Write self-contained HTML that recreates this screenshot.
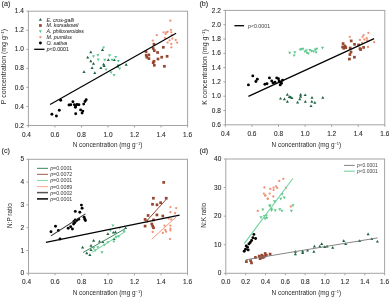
<!DOCTYPE html>
<html><head><meta charset="utf-8"><style>
html,body{margin:0;padding:0;background:#fff;width:389px;height:297px;overflow:hidden}
svg{display:block;will-change:transform;filter:blur(0.35px)}
text{font-family:"Liberation Sans", sans-serif}
</style></head><body>
<svg width="389" height="297" viewBox="0 0 389 297">
<rect x="28.40" y="11.20" width="159.20" height="114.30" fill="none" stroke="#a4a4a4" stroke-width="1"/>
<line x1="26.40" y1="125.50" x2="28.40" y2="125.50" stroke="#a4a4a4" stroke-width="1"/>
<text x="23.90" y="127.60" font-size="6.5" text-anchor="end" fill="#2a2a2a" stroke="#2a2a2a" stroke-width="0.1">0.2</text>
<line x1="26.40" y1="106.45" x2="28.40" y2="106.45" stroke="#a4a4a4" stroke-width="1"/>
<text x="23.90" y="108.55" font-size="6.5" text-anchor="end" fill="#2a2a2a" stroke="#2a2a2a" stroke-width="0.1">0.4</text>
<line x1="26.40" y1="87.40" x2="28.40" y2="87.40" stroke="#a4a4a4" stroke-width="1"/>
<text x="23.90" y="89.50" font-size="6.5" text-anchor="end" fill="#2a2a2a" stroke="#2a2a2a" stroke-width="0.1">0.6</text>
<line x1="26.40" y1="68.35" x2="28.40" y2="68.35" stroke="#a4a4a4" stroke-width="1"/>
<text x="23.90" y="70.45" font-size="6.5" text-anchor="end" fill="#2a2a2a" stroke="#2a2a2a" stroke-width="0.1">0.8</text>
<line x1="26.40" y1="49.30" x2="28.40" y2="49.30" stroke="#a4a4a4" stroke-width="1"/>
<text x="23.90" y="51.40" font-size="6.5" text-anchor="end" fill="#2a2a2a" stroke="#2a2a2a" stroke-width="0.1">1.0</text>
<line x1="26.40" y1="30.25" x2="28.40" y2="30.25" stroke="#a4a4a4" stroke-width="1"/>
<text x="23.90" y="32.35" font-size="6.5" text-anchor="end" fill="#2a2a2a" stroke="#2a2a2a" stroke-width="0.1">1.2</text>
<line x1="26.40" y1="11.20" x2="28.40" y2="11.20" stroke="#a4a4a4" stroke-width="1"/>
<text x="23.90" y="13.30" font-size="6.5" text-anchor="end" fill="#2a2a2a" stroke="#2a2a2a" stroke-width="0.1">1.4</text>
<line x1="28.40" y1="125.50" x2="28.40" y2="127.50" stroke="#a4a4a4" stroke-width="1"/>
<text x="26.40" y="136.60" font-size="6.5" text-anchor="middle" fill="#2a2a2a" stroke="#2a2a2a" stroke-width="0.1">0.4</text>
<line x1="54.93" y1="125.50" x2="54.93" y2="127.50" stroke="#a4a4a4" stroke-width="1"/>
<text x="54.93" y="136.60" font-size="6.5" text-anchor="middle" fill="#2a2a2a" stroke="#2a2a2a" stroke-width="0.1">0.6</text>
<line x1="81.47" y1="125.50" x2="81.47" y2="127.50" stroke="#a4a4a4" stroke-width="1"/>
<text x="81.47" y="136.60" font-size="6.5" text-anchor="middle" fill="#2a2a2a" stroke="#2a2a2a" stroke-width="0.1">0.8</text>
<line x1="108.00" y1="125.50" x2="108.00" y2="127.50" stroke="#a4a4a4" stroke-width="1"/>
<text x="108.00" y="136.60" font-size="6.5" text-anchor="middle" fill="#2a2a2a" stroke="#2a2a2a" stroke-width="0.1">1.0</text>
<line x1="134.53" y1="125.50" x2="134.53" y2="127.50" stroke="#a4a4a4" stroke-width="1"/>
<text x="134.53" y="136.60" font-size="6.5" text-anchor="middle" fill="#2a2a2a" stroke="#2a2a2a" stroke-width="0.1">1.2</text>
<line x1="161.07" y1="125.50" x2="161.07" y2="127.50" stroke="#a4a4a4" stroke-width="1"/>
<text x="161.07" y="136.60" font-size="6.5" text-anchor="middle" fill="#2a2a2a" stroke="#2a2a2a" stroke-width="0.1">1.4</text>
<line x1="187.60" y1="125.50" x2="187.60" y2="127.50" stroke="#a4a4a4" stroke-width="1"/>
<text x="187.60" y="136.60" font-size="6.5" text-anchor="middle" fill="#2a2a2a" stroke="#2a2a2a" stroke-width="0.1">1.6</text>
<text x="1.60" y="5.50" font-size="7.2" text-anchor="start" fill="#2a2a2a" stroke="#2a2a2a" stroke-width="0.1">(a)</text>
<text x="107.50" y="147.00" font-size="6.4" text-anchor="middle" fill="#2a2a2a">N concentration (mg g<tspan dy="-2" font-size="4">−1</tspan><tspan dy="2">)</tspan></text>
<text transform="translate(6.40 66.60) rotate(-90) scale(1.09 1)" x="0" y="0" font-size="6.4" text-anchor="middle" fill="#2a2a2a">P concentration (mg g<tspan dy="-2" font-size="4">−1</tspan><tspan dy="2">)</tspan></text>
<circle cx="170.30" cy="20.70" r="1.15" fill="#f39074"/>
<circle cx="163.60" cy="32.30" r="1.15" fill="#f39074"/>
<circle cx="166.30" cy="32.50" r="1.15" fill="#f39074"/>
<circle cx="167.60" cy="31.80" r="1.15" fill="#f39074"/>
<circle cx="165.60" cy="34.10" r="1.15" fill="#f39074"/>
<circle cx="171.00" cy="29.80" r="1.15" fill="#f39074"/>
<circle cx="171.30" cy="32.30" r="1.15" fill="#f39074"/>
<circle cx="171.70" cy="35.20" r="1.15" fill="#f39074"/>
<circle cx="156.80" cy="35.20" r="1.15" fill="#f39074"/>
<circle cx="164.90" cy="37.90" r="1.15" fill="#f39074"/>
<circle cx="172.30" cy="38.60" r="1.15" fill="#f39074"/>
<circle cx="169.60" cy="40.30" r="1.15" fill="#f39074"/>
<circle cx="175.70" cy="39.90" r="1.15" fill="#f39074"/>
<circle cx="152.80" cy="40.60" r="1.15" fill="#f39074"/>
<circle cx="167.60" cy="42.60" r="1.15" fill="#f39074"/>
<circle cx="177.10" cy="42.60" r="1.15" fill="#f39074"/>
<circle cx="171.30" cy="44.00" r="1.15" fill="#f39074"/>
<circle cx="171.30" cy="47.30" r="1.15" fill="#f39074"/>
<rect x="152.65" y="42.85" width="2.7" height="2.7" fill="#96462f"/>
<rect x="151.85" y="47.15" width="2.7" height="2.7" fill="#96462f"/>
<rect x="152.95" y="49.25" width="2.7" height="2.7" fill="#96462f"/>
<rect x="161.95" y="45.95" width="2.7" height="2.7" fill="#96462f"/>
<rect x="144.65" y="50.25" width="2.7" height="2.7" fill="#96462f"/>
<rect x="156.25" y="51.15" width="2.7" height="2.7" fill="#96462f"/>
<rect x="144.85" y="53.85" width="2.7" height="2.7" fill="#96462f"/>
<rect x="147.55" y="53.55" width="2.7" height="2.7" fill="#96462f"/>
<rect x="145.45" y="55.85" width="2.7" height="2.7" fill="#96462f"/>
<rect x="147.55" y="57.25" width="2.7" height="2.7" fill="#96462f"/>
<rect x="165.75" y="54.95" width="2.7" height="2.7" fill="#96462f"/>
<rect x="160.35" y="55.85" width="2.7" height="2.7" fill="#96462f"/>
<rect x="156.65" y="57.65" width="2.7" height="2.7" fill="#96462f"/>
<rect x="152.65" y="59.95" width="2.7" height="2.7" fill="#96462f"/>
<rect x="151.85" y="61.25" width="2.7" height="2.7" fill="#96462f"/>
<rect x="152.95" y="63.95" width="2.7" height="2.7" fill="#96462f"/>
<rect x="163.05" y="64.95" width="2.7" height="2.7" fill="#96462f"/>
<path d="M103.60 49.12L105.15 46.42L102.05 46.42Z" fill="#5cc78c"/>
<path d="M93.50 57.92L95.05 55.22L91.95 55.22Z" fill="#5cc78c"/>
<path d="M97.90 56.82L99.45 54.12L96.35 54.12Z" fill="#5cc78c"/>
<path d="M98.30 61.22L99.85 58.52L96.75 58.52Z" fill="#5cc78c"/>
<path d="M104.80 61.42L106.35 58.72L103.25 58.72Z" fill="#5cc78c"/>
<path d="M109.60 57.02L111.15 54.32L108.05 54.32Z" fill="#5cc78c"/>
<path d="M115.70 58.62L117.25 55.92L114.15 55.92Z" fill="#5cc78c"/>
<path d="M112.10 61.42L113.65 58.72L110.55 58.72Z" fill="#5cc78c"/>
<path d="M118.30 62.62L119.85 59.92L116.75 59.92Z" fill="#5cc78c"/>
<path d="M118.40 66.92L119.95 64.22L116.85 64.22Z" fill="#5cc78c"/>
<path d="M119.70 70.32L121.25 67.62L118.15 67.62Z" fill="#5cc78c"/>
<path d="M106.00 71.12L107.55 68.42L104.45 68.42Z" fill="#5cc78c"/>
<path d="M111.00 74.12L112.55 71.42L109.45 71.42Z" fill="#5cc78c"/>
<path d="M114.10 76.82L115.65 74.12L112.55 74.12Z" fill="#5cc78c"/>
<path d="M90.80 50.58L92.35 53.28L89.25 53.28Z" fill="#1f6342"/>
<path d="M87.70 55.68L89.25 58.38L86.15 58.38Z" fill="#1f6342"/>
<path d="M90.80 59.58L92.35 62.28L89.25 62.28Z" fill="#1f6342"/>
<path d="M93.50 61.98L95.05 64.68L91.95 64.68Z" fill="#1f6342"/>
<path d="M92.10 66.18L93.65 68.88L90.55 68.88Z" fill="#1f6342"/>
<path d="M84.00 70.18L85.55 72.88L82.45 72.88Z" fill="#1f6342"/>
<path d="M94.80 71.18L96.35 73.88L93.25 73.88Z" fill="#1f6342"/>
<path d="M100.90 66.18L102.45 68.88L99.35 68.88Z" fill="#1f6342"/>
<path d="M103.60 62.78L105.15 65.48L102.05 65.48Z" fill="#1f6342"/>
<path d="M104.20 64.18L105.75 66.88L102.65 66.88Z" fill="#1f6342"/>
<path d="M102.50 48.28L104.05 50.98L100.95 50.98Z" fill="#1f6342"/>
<path d="M108.30 58.18L109.85 60.88L106.75 60.88Z" fill="#1f6342"/>
<path d="M114.30 58.38L115.85 61.08L112.75 61.08Z" fill="#1f6342"/>
<path d="M126.20 63.08L127.75 65.78L124.65 65.78Z" fill="#1f6342"/>
<path d="M117.70 64.88L119.25 67.58L116.15 67.58Z" fill="#1f6342"/>
<circle cx="51.90" cy="114.30" r="1.45" fill="#000"/>
<circle cx="56.40" cy="116.00" r="1.45" fill="#000"/>
<circle cx="59.30" cy="110.20" r="1.45" fill="#000"/>
<circle cx="60.70" cy="100.20" r="1.45" fill="#000"/>
<circle cx="69.00" cy="105.00" r="1.45" fill="#000"/>
<circle cx="70.80" cy="104.70" r="1.45" fill="#000"/>
<circle cx="72.90" cy="101.80" r="1.45" fill="#000"/>
<circle cx="74.40" cy="104.70" r="1.45" fill="#000"/>
<circle cx="75.70" cy="106.00" r="1.45" fill="#000"/>
<circle cx="77.00" cy="104.50" r="1.45" fill="#000"/>
<circle cx="78.90" cy="104.70" r="1.45" fill="#000"/>
<circle cx="75.40" cy="107.30" r="1.45" fill="#000"/>
<circle cx="80.60" cy="109.90" r="1.45" fill="#000"/>
<circle cx="82.80" cy="111.10" r="1.45" fill="#000"/>
<circle cx="82.10" cy="113.10" r="1.45" fill="#000"/>
<circle cx="75.70" cy="113.70" r="1.45" fill="#000"/>
<circle cx="83.70" cy="104.10" r="1.45" fill="#000"/>
<circle cx="85.00" cy="101.50" r="1.45" fill="#000"/>
<circle cx="86.20" cy="99.80" r="1.45" fill="#000"/>
<line x1="50.10" y1="104.40" x2="176.10" y2="33.20" stroke="#000" stroke-width="1.2"/>
<path d="M40.40 17.98L41.95 20.68L38.85 20.68Z" fill="#1f6342"/>
<rect x="39.05" y="24.15" width="2.7" height="2.7" fill="#96462f"/>
<path d="M40.40 33.02L41.95 30.32L38.85 30.32Z" fill="#5cc78c"/>
<circle cx="40.40" cy="37.20" r="1.15" fill="#f39074"/>
<circle cx="40.40" cy="43.00" r="1.45" fill="#000"/>
<text x="46.50" y="21.50" font-size="5.25" text-anchor="start" font-style="italic" fill="#3a3a3a" stroke="#3a3a3a" stroke-width="0.08">E. crus-galli</text>
<text x="46.50" y="27.40" font-size="5.25" text-anchor="start" font-style="italic" fill="#3a3a3a" stroke="#3a3a3a" stroke-width="0.08">M. korsakowii</text>
<text x="46.50" y="33.30" font-size="5.25" text-anchor="start" font-style="italic" fill="#3a3a3a" stroke="#3a3a3a" stroke-width="0.08">A. philoxeroides</text>
<text x="46.50" y="39.10" font-size="5.25" text-anchor="start" font-style="italic" fill="#3a3a3a" stroke="#3a3a3a" stroke-width="0.08">M. pumilus</text>
<text x="46.50" y="44.90" font-size="5.25" text-anchor="start" font-style="italic" fill="#3a3a3a" stroke="#3a3a3a" stroke-width="0.08">O. sativa</text>
<line x1="34.20" y1="49.30" x2="44.50" y2="49.30" stroke="#000" stroke-width="1.3"/>
<text x="46.80" y="51.20" font-size="5.25" text-anchor="start" fill="#3a3a3a" stroke="#3a3a3a" stroke-width="0.08"><tspan font-style="italic">p</tspan>&lt;0.0001</text>
<rect x="225.40" y="10.40" width="159.40" height="114.40" fill="none" stroke="#a4a4a4" stroke-width="1"/>
<line x1="223.40" y1="124.80" x2="225.40" y2="124.80" stroke="#a4a4a4" stroke-width="1"/>
<text x="220.90" y="126.90" font-size="6.5" text-anchor="end" fill="#2a2a2a" stroke="#2a2a2a" stroke-width="0.1">0.6</text>
<line x1="223.40" y1="110.50" x2="225.40" y2="110.50" stroke="#a4a4a4" stroke-width="1"/>
<text x="220.90" y="112.60" font-size="6.5" text-anchor="end" fill="#2a2a2a" stroke="#2a2a2a" stroke-width="0.1">0.8</text>
<line x1="223.40" y1="96.20" x2="225.40" y2="96.20" stroke="#a4a4a4" stroke-width="1"/>
<text x="220.90" y="98.30" font-size="6.5" text-anchor="end" fill="#2a2a2a" stroke="#2a2a2a" stroke-width="0.1">1.0</text>
<line x1="223.40" y1="81.90" x2="225.40" y2="81.90" stroke="#a4a4a4" stroke-width="1"/>
<text x="220.90" y="84.00" font-size="6.5" text-anchor="end" fill="#2a2a2a" stroke="#2a2a2a" stroke-width="0.1">1.2</text>
<line x1="223.40" y1="67.60" x2="225.40" y2="67.60" stroke="#a4a4a4" stroke-width="1"/>
<text x="220.90" y="69.70" font-size="6.5" text-anchor="end" fill="#2a2a2a" stroke="#2a2a2a" stroke-width="0.1">1.4</text>
<line x1="223.40" y1="53.30" x2="225.40" y2="53.30" stroke="#a4a4a4" stroke-width="1"/>
<text x="220.90" y="55.40" font-size="6.5" text-anchor="end" fill="#2a2a2a" stroke="#2a2a2a" stroke-width="0.1">1.6</text>
<line x1="223.40" y1="39.00" x2="225.40" y2="39.00" stroke="#a4a4a4" stroke-width="1"/>
<text x="220.90" y="41.10" font-size="6.5" text-anchor="end" fill="#2a2a2a" stroke="#2a2a2a" stroke-width="0.1">1.8</text>
<line x1="223.40" y1="24.70" x2="225.40" y2="24.70" stroke="#a4a4a4" stroke-width="1"/>
<text x="220.90" y="26.80" font-size="6.5" text-anchor="end" fill="#2a2a2a" stroke="#2a2a2a" stroke-width="0.1">2.0</text>
<line x1="223.40" y1="10.40" x2="225.40" y2="10.40" stroke="#a4a4a4" stroke-width="1"/>
<text x="220.90" y="12.50" font-size="6.5" text-anchor="end" fill="#2a2a2a" stroke="#2a2a2a" stroke-width="0.1">2.2</text>
<line x1="225.40" y1="124.80" x2="225.40" y2="126.80" stroke="#a4a4a4" stroke-width="1"/>
<text x="225.40" y="135.90" font-size="6.5" text-anchor="middle" fill="#2a2a2a" stroke="#2a2a2a" stroke-width="0.1">0.4</text>
<line x1="251.97" y1="124.80" x2="251.97" y2="126.80" stroke="#a4a4a4" stroke-width="1"/>
<text x="251.97" y="135.90" font-size="6.5" text-anchor="middle" fill="#2a2a2a" stroke="#2a2a2a" stroke-width="0.1">0.6</text>
<line x1="278.53" y1="124.80" x2="278.53" y2="126.80" stroke="#a4a4a4" stroke-width="1"/>
<text x="278.53" y="135.90" font-size="6.5" text-anchor="middle" fill="#2a2a2a" stroke="#2a2a2a" stroke-width="0.1">0.8</text>
<line x1="305.10" y1="124.80" x2="305.10" y2="126.80" stroke="#a4a4a4" stroke-width="1"/>
<text x="305.10" y="135.90" font-size="6.5" text-anchor="middle" fill="#2a2a2a" stroke="#2a2a2a" stroke-width="0.1">1.0</text>
<line x1="331.67" y1="124.80" x2="331.67" y2="126.80" stroke="#a4a4a4" stroke-width="1"/>
<text x="331.67" y="135.90" font-size="6.5" text-anchor="middle" fill="#2a2a2a" stroke="#2a2a2a" stroke-width="0.1">1.2</text>
<line x1="358.23" y1="124.80" x2="358.23" y2="126.80" stroke="#a4a4a4" stroke-width="1"/>
<text x="358.23" y="135.90" font-size="6.5" text-anchor="middle" fill="#2a2a2a" stroke="#2a2a2a" stroke-width="0.1">1.4</text>
<line x1="384.80" y1="124.80" x2="384.80" y2="126.80" stroke="#a4a4a4" stroke-width="1"/>
<text x="384.80" y="135.90" font-size="6.5" text-anchor="middle" fill="#2a2a2a" stroke="#2a2a2a" stroke-width="0.1">1.6</text>
<text x="199.40" y="5.50" font-size="7.2" text-anchor="start" fill="#2a2a2a" stroke="#2a2a2a" stroke-width="0.1">(b)</text>
<text x="306.40" y="147.00" font-size="6.4" text-anchor="middle" fill="#2a2a2a">N concentration (mg g<tspan dy="-2" font-size="4">−1</tspan><tspan dy="2">)</tspan></text>
<text transform="translate(206.60 67.00) rotate(-90) scale(1.09 1)" x="0" y="0" font-size="6.4" text-anchor="middle" fill="#2a2a2a">K concentration (mg g<tspan dy="-2" font-size="4">−1</tspan><tspan dy="2">)</tspan></text>
<circle cx="368.40" cy="32.80" r="1.15" fill="#f39074"/>
<circle cx="363.60" cy="35.10" r="1.15" fill="#f39074"/>
<circle cx="362.60" cy="36.80" r="1.15" fill="#f39074"/>
<circle cx="349.80" cy="36.80" r="1.15" fill="#f39074"/>
<circle cx="359.90" cy="39.90" r="1.15" fill="#f39074"/>
<circle cx="364.40" cy="39.50" r="1.15" fill="#f39074"/>
<circle cx="366.70" cy="38.20" r="1.15" fill="#f39074"/>
<circle cx="367.30" cy="40.50" r="1.15" fill="#f39074"/>
<circle cx="374.10" cy="42.20" r="1.15" fill="#f39074"/>
<circle cx="368.00" cy="47.00" r="1.15" fill="#f39074"/>
<circle cx="362.00" cy="42.90" r="1.15" fill="#f39074"/>
<rect x="349.85" y="39.55" width="2.7" height="2.7" fill="#96462f"/>
<rect x="341.75" y="42.25" width="2.7" height="2.7" fill="#96462f"/>
<rect x="341.25" y="45.65" width="2.7" height="2.7" fill="#96462f"/>
<rect x="343.55" y="44.65" width="2.7" height="2.7" fill="#96462f"/>
<rect x="342.45" y="46.95" width="2.7" height="2.7" fill="#96462f"/>
<rect x="344.45" y="46.25" width="2.7" height="2.7" fill="#96462f"/>
<rect x="353.15" y="42.95" width="2.7" height="2.7" fill="#96462f"/>
<rect x="348.85" y="46.65" width="2.7" height="2.7" fill="#96462f"/>
<rect x="357.25" y="43.55" width="2.7" height="2.7" fill="#96462f"/>
<rect x="358.65" y="47.25" width="2.7" height="2.7" fill="#96462f"/>
<rect x="359.25" y="48.25" width="2.7" height="2.7" fill="#96462f"/>
<rect x="362.25" y="46.05" width="2.7" height="2.7" fill="#96462f"/>
<rect x="349.65" y="50.65" width="2.7" height="2.7" fill="#96462f"/>
<rect x="348.55" y="53.15" width="2.7" height="2.7" fill="#96462f"/>
<rect x="353.05" y="55.85" width="2.7" height="2.7" fill="#96462f"/>
<rect x="348.05" y="57.75" width="2.7" height="2.7" fill="#96462f"/>
<path d="M289.70 54.42L291.25 51.72L288.15 51.72Z" fill="#5cc78c"/>
<path d="M294.80 54.02L296.35 51.32L293.25 51.32Z" fill="#5cc78c"/>
<path d="M294.20 57.12L295.75 54.42L292.65 54.42Z" fill="#5cc78c"/>
<path d="M300.20 51.32L301.75 48.62L298.65 48.62Z" fill="#5cc78c"/>
<path d="M301.80 50.82L303.35 48.12L300.25 48.12Z" fill="#5cc78c"/>
<path d="M302.90 50.42L304.45 47.72L301.35 47.72Z" fill="#5cc78c"/>
<path d="M304.90 53.12L306.45 50.42L303.35 50.42Z" fill="#5cc78c"/>
<path d="M306.30 52.12L307.85 49.42L304.75 49.42Z" fill="#5cc78c"/>
<path d="M307.00 54.42L308.55 51.72L305.45 51.72Z" fill="#5cc78c"/>
<path d="M308.30 55.12L309.85 52.42L306.75 52.42Z" fill="#5cc78c"/>
<path d="M309.90 51.72L311.45 49.02L308.35 49.02Z" fill="#5cc78c"/>
<path d="M311.70 52.72L313.25 50.02L310.15 50.02Z" fill="#5cc78c"/>
<path d="M313.70 53.12L315.25 50.42L312.15 50.42Z" fill="#5cc78c"/>
<path d="M315.30 51.32L316.85 48.62L313.75 48.62Z" fill="#5cc78c"/>
<path d="M316.10 54.02L317.65 51.32L314.55 51.32Z" fill="#5cc78c"/>
<path d="M316.70 50.42L318.25 47.72L315.15 47.72Z" fill="#5cc78c"/>
<path d="M322.50 49.42L324.05 46.72L320.95 46.72Z" fill="#5cc78c"/>
<path d="M280.50 96.88L282.05 99.58L278.95 99.58Z" fill="#1f6342"/>
<path d="M284.40 97.48L285.95 100.18L282.85 100.18Z" fill="#1f6342"/>
<path d="M287.40 92.98L288.95 95.68L285.85 95.68Z" fill="#1f6342"/>
<path d="M287.40 100.08L288.95 102.78L285.85 102.78Z" fill="#1f6342"/>
<path d="M289.30 95.18L290.85 97.88L287.75 97.88Z" fill="#1f6342"/>
<path d="M290.60 95.58L292.15 98.28L289.05 98.28Z" fill="#1f6342"/>
<path d="M291.90 96.28L293.45 98.98L290.35 98.98Z" fill="#1f6342"/>
<path d="M297.60 100.78L299.15 103.48L296.05 103.48Z" fill="#1f6342"/>
<path d="M299.80 97.48L301.35 100.18L298.25 100.18Z" fill="#1f6342"/>
<path d="M300.60 92.98L302.15 95.68L299.05 95.68Z" fill="#1f6342"/>
<path d="M300.60 94.98L302.15 97.68L299.05 97.68Z" fill="#1f6342"/>
<path d="M305.20 93.38L306.75 96.08L303.65 96.08Z" fill="#1f6342"/>
<path d="M305.30 100.08L306.85 102.78L303.75 102.78Z" fill="#1f6342"/>
<path d="M312.00 96.08L313.55 98.78L310.45 98.78Z" fill="#1f6342"/>
<path d="M311.80 100.08L313.35 102.78L310.25 102.78Z" fill="#1f6342"/>
<path d="M314.80 100.98L316.35 103.68L313.25 103.68Z" fill="#1f6342"/>
<path d="M311.00 104.38L312.55 107.08L309.45 107.08Z" fill="#1f6342"/>
<path d="M322.80 96.08L324.35 98.78L321.25 98.78Z" fill="#1f6342"/>
<circle cx="248.40" cy="84.90" r="1.45" fill="#000"/>
<circle cx="252.80" cy="75.90" r="1.45" fill="#000"/>
<circle cx="255.90" cy="81.50" r="1.45" fill="#000"/>
<circle cx="257.30" cy="79.30" r="1.45" fill="#000"/>
<circle cx="264.90" cy="84.20" r="1.45" fill="#000"/>
<circle cx="267.00" cy="83.80" r="1.45" fill="#000"/>
<circle cx="269.40" cy="77.90" r="1.45" fill="#000"/>
<circle cx="271.70" cy="80.90" r="1.45" fill="#000"/>
<circle cx="273.00" cy="82.90" r="1.45" fill="#000"/>
<circle cx="275.00" cy="82.20" r="1.45" fill="#000"/>
<circle cx="276.70" cy="77.90" r="1.45" fill="#000"/>
<circle cx="278.40" cy="78.80" r="1.45" fill="#000"/>
<circle cx="279.10" cy="80.90" r="1.45" fill="#000"/>
<circle cx="280.40" cy="82.20" r="1.45" fill="#000"/>
<circle cx="280.20" cy="84.90" r="1.45" fill="#000"/>
<circle cx="282.50" cy="80.20" r="1.45" fill="#000"/>
<circle cx="281.50" cy="83.30" r="1.45" fill="#000"/>
<line x1="248.40" y1="96.40" x2="374.10" y2="38.60" stroke="#000" stroke-width="1.2"/>
<line x1="234.40" y1="25.70" x2="244.10" y2="25.70" stroke="#000" stroke-width="1.3"/>
<text x="248.00" y="27.70" font-size="5.25" text-anchor="start" fill="#3a3a3a" stroke="#3a3a3a" stroke-width="0.0"><tspan font-style="italic">p</tspan>&lt;0.0001</text>
<rect x="28.50" y="159.30" width="159.00" height="114.00" fill="none" stroke="#a4a4a4" stroke-width="1"/>
<line x1="26.50" y1="273.30" x2="28.50" y2="273.30" stroke="#a4a4a4" stroke-width="1"/>
<text x="24.00" y="275.40" font-size="6.5" text-anchor="end" fill="#2a2a2a" stroke="#2a2a2a" stroke-width="0.1">0</text>
<line x1="26.50" y1="250.50" x2="28.50" y2="250.50" stroke="#a4a4a4" stroke-width="1"/>
<text x="24.00" y="252.60" font-size="6.5" text-anchor="end" fill="#2a2a2a" stroke="#2a2a2a" stroke-width="0.1">1</text>
<line x1="26.50" y1="227.70" x2="28.50" y2="227.70" stroke="#a4a4a4" stroke-width="1"/>
<text x="24.00" y="229.80" font-size="6.5" text-anchor="end" fill="#2a2a2a" stroke="#2a2a2a" stroke-width="0.1">2</text>
<line x1="26.50" y1="204.90" x2="28.50" y2="204.90" stroke="#a4a4a4" stroke-width="1"/>
<text x="24.00" y="207.00" font-size="6.5" text-anchor="end" fill="#2a2a2a" stroke="#2a2a2a" stroke-width="0.1">3</text>
<line x1="26.50" y1="182.10" x2="28.50" y2="182.10" stroke="#a4a4a4" stroke-width="1"/>
<text x="24.00" y="184.20" font-size="6.5" text-anchor="end" fill="#2a2a2a" stroke="#2a2a2a" stroke-width="0.1">4</text>
<line x1="26.50" y1="159.30" x2="28.50" y2="159.30" stroke="#a4a4a4" stroke-width="1"/>
<text x="24.00" y="161.40" font-size="6.5" text-anchor="end" fill="#2a2a2a" stroke="#2a2a2a" stroke-width="0.1">5</text>
<line x1="28.50" y1="273.30" x2="28.50" y2="275.30" stroke="#a4a4a4" stroke-width="1"/>
<text x="26.50" y="284.40" font-size="6.5" text-anchor="middle" fill="#2a2a2a" stroke="#2a2a2a" stroke-width="0.1">0.4</text>
<line x1="55.00" y1="273.30" x2="55.00" y2="275.30" stroke="#a4a4a4" stroke-width="1"/>
<text x="55.00" y="284.40" font-size="6.5" text-anchor="middle" fill="#2a2a2a" stroke="#2a2a2a" stroke-width="0.1">0.6</text>
<line x1="81.50" y1="273.30" x2="81.50" y2="275.30" stroke="#a4a4a4" stroke-width="1"/>
<text x="81.50" y="284.40" font-size="6.5" text-anchor="middle" fill="#2a2a2a" stroke="#2a2a2a" stroke-width="0.1">0.8</text>
<line x1="108.00" y1="273.30" x2="108.00" y2="275.30" stroke="#a4a4a4" stroke-width="1"/>
<text x="108.00" y="284.40" font-size="6.5" text-anchor="middle" fill="#2a2a2a" stroke="#2a2a2a" stroke-width="0.1">1.0</text>
<line x1="134.50" y1="273.30" x2="134.50" y2="275.30" stroke="#a4a4a4" stroke-width="1"/>
<text x="134.50" y="284.40" font-size="6.5" text-anchor="middle" fill="#2a2a2a" stroke="#2a2a2a" stroke-width="0.1">1.2</text>
<line x1="161.00" y1="273.30" x2="161.00" y2="275.30" stroke="#a4a4a4" stroke-width="1"/>
<text x="161.00" y="284.40" font-size="6.5" text-anchor="middle" fill="#2a2a2a" stroke="#2a2a2a" stroke-width="0.1">1.4</text>
<line x1="187.50" y1="273.30" x2="187.50" y2="275.30" stroke="#a4a4a4" stroke-width="1"/>
<text x="187.50" y="284.40" font-size="6.5" text-anchor="middle" fill="#2a2a2a" stroke="#2a2a2a" stroke-width="0.1">1.6</text>
<text x="1.60" y="152.80" font-size="7.2" text-anchor="start" fill="#2a2a2a" stroke="#2a2a2a" stroke-width="0.1">(c)</text>
<text x="107.50" y="295.40" font-size="6.4" text-anchor="middle" fill="#2a2a2a">N concentration (mg g<tspan dy="-2" font-size="4">−1</tspan><tspan dy="2">)</tspan></text>
<text transform="translate(11.60 215.60) rotate(-90) scale(1.0 1)" x="0" y="0" font-size="6.4" text-anchor="middle" fill="#2a2a2a">N:P ratio</text>
<circle cx="170.40" cy="207.10" r="1.15" fill="#f39074"/>
<circle cx="176.20" cy="208.10" r="1.15" fill="#f39074"/>
<circle cx="170.40" cy="212.20" r="1.15" fill="#f39074"/>
<circle cx="175.10" cy="213.20" r="1.15" fill="#f39074"/>
<circle cx="168.70" cy="218.60" r="1.15" fill="#f39074"/>
<circle cx="171.20" cy="219.40" r="1.15" fill="#f39074"/>
<circle cx="164.50" cy="225.60" r="1.15" fill="#f39074"/>
<circle cx="170.40" cy="225.60" r="1.15" fill="#f39074"/>
<circle cx="170.40" cy="228.70" r="1.15" fill="#f39074"/>
<circle cx="170.40" cy="230.40" r="1.15" fill="#f39074"/>
<circle cx="165.30" cy="230.00" r="1.15" fill="#f39074"/>
<circle cx="166.10" cy="231.70" r="1.15" fill="#f39074"/>
<circle cx="162.80" cy="232.90" r="1.15" fill="#f39074"/>
<circle cx="152.70" cy="232.00" r="1.15" fill="#f39074"/>
<circle cx="170.00" cy="239.10" r="1.15" fill="#f39074"/>
<rect x="162.35" y="181.05" width="2.7" height="2.7" fill="#96462f"/>
<rect x="152.05" y="196.85" width="2.7" height="2.7" fill="#96462f"/>
<rect x="164.85" y="196.85" width="2.7" height="2.7" fill="#96462f"/>
<rect x="151.15" y="202.95" width="2.7" height="2.7" fill="#96462f"/>
<rect x="155.65" y="203.45" width="2.7" height="2.7" fill="#96462f"/>
<rect x="159.25" y="201.35" width="2.7" height="2.7" fill="#96462f"/>
<rect x="146.75" y="214.15" width="2.7" height="2.7" fill="#96462f"/>
<rect x="155.55" y="213.55" width="2.7" height="2.7" fill="#96462f"/>
<rect x="161.45" y="214.65" width="2.7" height="2.7" fill="#96462f"/>
<rect x="143.75" y="218.05" width="2.7" height="2.7" fill="#96462f"/>
<rect x="145.45" y="219.75" width="2.7" height="2.7" fill="#96462f"/>
<rect x="152.15" y="218.55" width="2.7" height="2.7" fill="#96462f"/>
<rect x="150.45" y="222.65" width="2.7" height="2.7" fill="#96462f"/>
<rect x="151.35" y="224.75" width="2.7" height="2.7" fill="#96462f"/>
<rect x="152.15" y="226.45" width="2.7" height="2.7" fill="#96462f"/>
<rect x="143.75" y="224.75" width="2.7" height="2.7" fill="#96462f"/>
<path d="M112.90 227.12L114.45 224.42L111.35 224.42Z" fill="#5cc78c"/>
<path d="M119.70 229.62L121.25 226.92L118.15 226.92Z" fill="#5cc78c"/>
<path d="M110.40 232.12L111.95 229.42L108.85 229.42Z" fill="#5cc78c"/>
<path d="M118.80 238.02L120.35 235.32L117.25 235.32Z" fill="#5cc78c"/>
<path d="M116.30 238.52L117.85 235.82L114.75 235.82Z" fill="#5cc78c"/>
<path d="M107.90 243.92L109.45 241.22L106.35 241.22Z" fill="#5cc78c"/>
<path d="M104.50 246.42L106.05 243.72L102.95 243.72Z" fill="#5cc78c"/>
<path d="M97.80 249.02L99.35 246.32L96.25 246.32Z" fill="#5cc78c"/>
<path d="M95.30 252.02L96.85 249.32L93.75 249.32Z" fill="#5cc78c"/>
<path d="M102.00 254.02L103.55 251.32L100.45 251.32Z" fill="#5cc78c"/>
<path d="M113.80 243.12L115.35 240.42L112.25 240.42Z" fill="#5cc78c"/>
<path d="M123.90 233.02L125.45 230.32L122.35 230.32Z" fill="#5cc78c"/>
<path d="M93.60 249.82L95.15 247.12L92.05 247.12Z" fill="#5cc78c"/>
<path d="M82.60 245.78L84.15 248.48L81.05 248.48Z" fill="#1f6342"/>
<path d="M86.80 251.58L88.35 254.28L85.25 254.28Z" fill="#1f6342"/>
<path d="M89.90 253.28L91.45 255.98L88.35 255.98Z" fill="#1f6342"/>
<path d="M91.00 244.08L92.55 246.78L89.45 246.78Z" fill="#1f6342"/>
<path d="M93.60 238.98L95.15 241.68L92.05 241.68Z" fill="#1f6342"/>
<path d="M99.50 239.88L101.05 242.58L97.95 242.58Z" fill="#1f6342"/>
<path d="M102.80 240.38L104.35 243.08L101.25 243.08Z" fill="#1f6342"/>
<path d="M107.90 232.28L109.45 234.98L106.35 234.98Z" fill="#1f6342"/>
<path d="M113.40 230.88L114.95 233.58L111.85 233.58Z" fill="#1f6342"/>
<path d="M115.50 230.58L117.05 233.28L113.95 233.28Z" fill="#1f6342"/>
<path d="M114.10 237.28L115.65 239.98L112.55 239.98Z" fill="#1f6342"/>
<path d="M125.60 226.38L127.15 229.08L124.05 229.08Z" fill="#1f6342"/>
<path d="M91.00 248.28L92.55 250.98L89.45 250.98Z" fill="#1f6342"/>
<circle cx="81.40" cy="205.10" r="1.45" fill="#000"/>
<circle cx="82.10" cy="208.20" r="1.45" fill="#000"/>
<circle cx="75.30" cy="211.40" r="1.45" fill="#000"/>
<circle cx="79.80" cy="212.30" r="1.45" fill="#000"/>
<circle cx="55.50" cy="226.20" r="1.45" fill="#000"/>
<circle cx="51.00" cy="231.70" r="1.45" fill="#000"/>
<circle cx="58.40" cy="230.40" r="1.45" fill="#000"/>
<circle cx="68.20" cy="228.20" r="1.45" fill="#000"/>
<circle cx="70.70" cy="226.80" r="1.45" fill="#000"/>
<circle cx="72.40" cy="229.00" r="1.45" fill="#000"/>
<circle cx="73.60" cy="224.00" r="1.45" fill="#000"/>
<circle cx="74.00" cy="221.30" r="1.45" fill="#000"/>
<circle cx="75.30" cy="219.90" r="1.45" fill="#000"/>
<circle cx="76.70" cy="220.60" r="1.45" fill="#000"/>
<circle cx="78.70" cy="219.30" r="1.45" fill="#000"/>
<circle cx="74.90" cy="222.60" r="1.45" fill="#000"/>
<circle cx="84.10" cy="217.20" r="1.45" fill="#000"/>
<circle cx="84.80" cy="219.30" r="1.45" fill="#000"/>
<circle cx="85.40" cy="220.60" r="1.45" fill="#000"/>
<circle cx="60.00" cy="239.00" r="1.45" fill="#000"/>
<line x1="45.90" y1="242.40" x2="179.60" y2="215.20" stroke="#000" stroke-width="1.3"/>
<line x1="50.90" y1="235.90" x2="85.40" y2="213.90" stroke="#333" stroke-width="1.1"/>
<line x1="83.00" y1="252.50" x2="125.60" y2="228.50" stroke="#3f8a62" stroke-width="1.0"/>
<line x1="91.90" y1="252.40" x2="125.60" y2="231.40" stroke="#6fd39c" stroke-width="1.0"/>
<line x1="145.90" y1="221.90" x2="167.00" y2="198.40" stroke="#8f4a38" stroke-width="1.0"/>
<line x1="151.80" y1="239.10" x2="176.20" y2="216.90" stroke="#f5987c" stroke-width="1.0"/>
<line x1="37.00" y1="168.40" x2="48.00" y2="168.40" stroke="#5a9a78" stroke-width="1.2"/>
<text x="50.20" y="170.30" font-size="5.25" text-anchor="start" fill="#3a3a3a" stroke="#3a3a3a" stroke-width="0.0"><tspan font-style="italic">p</tspan>=0.0001</text>
<line x1="37.00" y1="174.40" x2="48.00" y2="174.40" stroke="#b07868" stroke-width="1.2"/>
<text x="50.20" y="176.30" font-size="5.25" text-anchor="start" fill="#3a3a3a" stroke="#3a3a3a" stroke-width="0.0"><tspan font-style="italic">p</tspan>=0.0072</text>
<line x1="37.00" y1="180.50" x2="48.00" y2="180.50" stroke="#8edab2" stroke-width="1.2"/>
<text x="50.20" y="182.40" font-size="5.25" text-anchor="start" fill="#3a3a3a" stroke="#3a3a3a" stroke-width="0.0"><tspan font-style="italic">p</tspan>=0.0001</text>
<line x1="37.00" y1="186.60" x2="48.00" y2="186.60" stroke="#f9b4a0" stroke-width="1.2"/>
<text x="50.20" y="188.50" font-size="5.25" text-anchor="start" fill="#3a3a3a" stroke="#3a3a3a" stroke-width="0.0"><tspan font-style="italic">p</tspan>=0.0089</text>
<line x1="37.00" y1="192.60" x2="48.00" y2="192.60" stroke="#555" stroke-width="1.5"/>
<text x="50.20" y="194.50" font-size="5.25" text-anchor="start" fill="#3a3a3a" stroke="#3a3a3a" stroke-width="0.0"><tspan font-style="italic">p</tspan>=0.0002</text>
<line x1="37.00" y1="198.90" x2="48.00" y2="198.90" stroke="#111" stroke-width="1.6"/>
<text x="50.20" y="200.80" font-size="5.25" text-anchor="start" fill="#3a3a3a" stroke="#3a3a3a" stroke-width="0.0"><tspan font-style="italic">p</tspan>=0.0001</text>
<rect x="225.80" y="159.00" width="158.80" height="114.30" fill="none" stroke="#a4a4a4" stroke-width="1"/>
<line x1="223.80" y1="273.30" x2="225.80" y2="273.30" stroke="#a4a4a4" stroke-width="1"/>
<text x="221.30" y="275.40" font-size="6.5" text-anchor="end" fill="#2a2a2a" stroke="#2a2a2a" stroke-width="0.1">0</text>
<line x1="223.80" y1="244.73" x2="225.80" y2="244.73" stroke="#a4a4a4" stroke-width="1"/>
<text x="221.30" y="246.83" font-size="6.5" text-anchor="end" fill="#2a2a2a" stroke="#2a2a2a" stroke-width="0.1">10</text>
<line x1="223.80" y1="216.15" x2="225.80" y2="216.15" stroke="#a4a4a4" stroke-width="1"/>
<text x="221.30" y="218.25" font-size="6.5" text-anchor="end" fill="#2a2a2a" stroke="#2a2a2a" stroke-width="0.1">20</text>
<line x1="223.80" y1="187.57" x2="225.80" y2="187.57" stroke="#a4a4a4" stroke-width="1"/>
<text x="221.30" y="189.67" font-size="6.5" text-anchor="end" fill="#2a2a2a" stroke="#2a2a2a" stroke-width="0.1">30</text>
<line x1="223.80" y1="159.00" x2="225.80" y2="159.00" stroke="#a4a4a4" stroke-width="1"/>
<text x="221.30" y="161.10" font-size="6.5" text-anchor="end" fill="#2a2a2a" stroke="#2a2a2a" stroke-width="0.1">40</text>
<line x1="225.80" y1="273.30" x2="225.80" y2="275.30" stroke="#a4a4a4" stroke-width="1"/>
<text x="225.80" y="284.40" font-size="6.5" text-anchor="middle" fill="#2a2a2a" stroke="#2a2a2a" stroke-width="0.1">0.0</text>
<line x1="245.65" y1="273.30" x2="245.65" y2="275.30" stroke="#a4a4a4" stroke-width="1"/>
<text x="245.65" y="284.40" font-size="6.5" text-anchor="middle" fill="#2a2a2a" stroke="#2a2a2a" stroke-width="0.1">0.2</text>
<line x1="265.50" y1="273.30" x2="265.50" y2="275.30" stroke="#a4a4a4" stroke-width="1"/>
<text x="265.50" y="284.40" font-size="6.5" text-anchor="middle" fill="#2a2a2a" stroke="#2a2a2a" stroke-width="0.1">0.4</text>
<line x1="285.35" y1="273.30" x2="285.35" y2="275.30" stroke="#a4a4a4" stroke-width="1"/>
<text x="285.35" y="284.40" font-size="6.5" text-anchor="middle" fill="#2a2a2a" stroke="#2a2a2a" stroke-width="0.1">0.6</text>
<line x1="305.20" y1="273.30" x2="305.20" y2="275.30" stroke="#a4a4a4" stroke-width="1"/>
<text x="305.20" y="284.40" font-size="6.5" text-anchor="middle" fill="#2a2a2a" stroke="#2a2a2a" stroke-width="0.1">0.8</text>
<line x1="325.05" y1="273.30" x2="325.05" y2="275.30" stroke="#a4a4a4" stroke-width="1"/>
<text x="325.05" y="284.40" font-size="6.5" text-anchor="middle" fill="#2a2a2a" stroke="#2a2a2a" stroke-width="0.1">1.0</text>
<line x1="344.90" y1="273.30" x2="344.90" y2="275.30" stroke="#a4a4a4" stroke-width="1"/>
<text x="344.90" y="284.40" font-size="6.5" text-anchor="middle" fill="#2a2a2a" stroke="#2a2a2a" stroke-width="0.1">1.2</text>
<line x1="364.75" y1="273.30" x2="364.75" y2="275.30" stroke="#a4a4a4" stroke-width="1"/>
<text x="364.75" y="284.40" font-size="6.5" text-anchor="middle" fill="#2a2a2a" stroke="#2a2a2a" stroke-width="0.1">1.4</text>
<line x1="384.60" y1="273.30" x2="384.60" y2="275.30" stroke="#a4a4a4" stroke-width="1"/>
<text x="384.60" y="284.40" font-size="6.5" text-anchor="middle" fill="#2a2a2a" stroke="#2a2a2a" stroke-width="0.1">1.6</text>
<text x="199.40" y="152.80" font-size="7.2" text-anchor="start" fill="#2a2a2a" stroke="#2a2a2a" stroke-width="0.1">(d)</text>
<text x="306.40" y="295.20" font-size="6.4" text-anchor="middle" fill="#2a2a2a">N concentration (mg g<tspan dy="-2" font-size="4">−1</tspan><tspan dy="2">)</tspan></text>
<text transform="translate(206.20 215.30) rotate(-90) scale(1.0 1)" x="0" y="0" font-size="6.4" text-anchor="middle" fill="#2a2a2a">N:K ratio</text>
<circle cx="257.80" cy="210.90" r="1.15" fill="#f39074"/>
<circle cx="283.30" cy="178.80" r="1.15" fill="#f39074"/>
<circle cx="279.20" cy="180.90" r="1.15" fill="#f39074"/>
<circle cx="264.40" cy="187.50" r="1.15" fill="#f39074"/>
<circle cx="270.30" cy="188.90" r="1.15" fill="#f39074"/>
<circle cx="273.60" cy="187.70" r="1.15" fill="#f39074"/>
<circle cx="273.60" cy="190.10" r="1.15" fill="#f39074"/>
<circle cx="276.00" cy="186.30" r="1.15" fill="#f39074"/>
<circle cx="277.20" cy="187.90" r="1.15" fill="#f39074"/>
<circle cx="285.90" cy="187.90" r="1.15" fill="#f39074"/>
<circle cx="263.80" cy="193.60" r="1.15" fill="#f39074"/>
<circle cx="265.40" cy="195.40" r="1.15" fill="#f39074"/>
<circle cx="269.70" cy="193.60" r="1.15" fill="#f39074"/>
<circle cx="267.70" cy="198.60" r="1.15" fill="#f39074"/>
<circle cx="273.30" cy="196.50" r="1.15" fill="#f39074"/>
<circle cx="265.20" cy="195.50" r="1.15" fill="#f39074"/>
<circle cx="267.80" cy="198.90" r="1.15" fill="#f39074"/>
<circle cx="290.90" cy="206.50" r="1.15" fill="#f39074"/>
<path d="M262.80 211.32L264.35 208.62L261.25 208.62Z" fill="#5cc78c"/>
<path d="M261.00 219.02L262.55 216.32L259.45 216.32Z" fill="#5cc78c"/>
<path d="M264.50 217.82L266.05 215.12L262.95 215.12Z" fill="#5cc78c"/>
<path d="M266.30 217.22L267.85 214.52L264.75 214.52Z" fill="#5cc78c"/>
<path d="M265.10 220.22L266.65 217.52L263.55 217.52Z" fill="#5cc78c"/>
<path d="M266.90 219.62L268.45 216.92L265.35 216.92Z" fill="#5cc78c"/>
<path d="M271.60 211.92L273.15 209.22L270.05 209.22Z" fill="#5cc78c"/>
<path d="M275.20 211.92L276.75 209.22L273.65 209.22Z" fill="#5cc78c"/>
<path d="M269.90 207.22L271.45 204.52L268.35 204.52Z" fill="#5cc78c"/>
<path d="M282.10 195.82L283.65 193.12L280.55 193.12Z" fill="#5cc78c"/>
<path d="M284.30 199.32L285.85 196.62L282.75 196.62Z" fill="#5cc78c"/>
<path d="M280.70 200.52L282.25 197.82L279.15 197.82Z" fill="#5cc78c"/>
<path d="M274.50 202.92L276.05 200.22L272.95 200.22Z" fill="#5cc78c"/>
<path d="M269.80 207.42L271.35 204.72L268.25 204.72Z" fill="#5cc78c"/>
<path d="M279.80 211.02L281.35 208.32L278.25 208.32Z" fill="#5cc78c"/>
<path d="M281.90 212.52L283.45 209.82L280.35 209.82Z" fill="#5cc78c"/>
<path d="M291.40 212.52L292.95 209.82L289.85 209.82Z" fill="#5cc78c"/>
<path d="M293.00 206.92L294.55 204.22L291.45 204.22Z" fill="#5cc78c"/>
<path d="M271.40 210.52L272.95 207.82L269.85 207.82Z" fill="#5cc78c"/>
<rect x="245.05" y="260.25" width="2.7" height="2.7" fill="#96462f"/>
<rect x="249.25" y="259.25" width="2.7" height="2.7" fill="#96462f"/>
<rect x="250.15" y="261.55" width="2.7" height="2.7" fill="#96462f"/>
<rect x="254.05" y="256.05" width="2.7" height="2.7" fill="#96462f"/>
<rect x="257.85" y="254.75" width="2.7" height="2.7" fill="#96462f"/>
<rect x="258.75" y="257.25" width="2.7" height="2.7" fill="#96462f"/>
<rect x="260.45" y="253.85" width="2.7" height="2.7" fill="#96462f"/>
<rect x="261.75" y="256.05" width="2.7" height="2.7" fill="#96462f"/>
<rect x="263.85" y="252.15" width="2.7" height="2.7" fill="#96462f"/>
<rect x="264.95" y="253.85" width="2.7" height="2.7" fill="#96462f"/>
<rect x="268.75" y="252.75" width="2.7" height="2.7" fill="#96462f"/>
<rect x="262.95" y="255.15" width="2.7" height="2.7" fill="#96462f"/>
<rect x="259.75" y="256.35" width="2.7" height="2.7" fill="#96462f"/>
<path d="M295.40 250.08L296.95 252.78L293.85 252.78Z" fill="#1f6342"/>
<path d="M295.40 252.58L296.95 255.28L293.85 255.28Z" fill="#1f6342"/>
<path d="M302.70 249.68L304.25 252.38L301.15 252.38Z" fill="#1f6342"/>
<path d="M302.70 251.38L304.25 254.08L301.15 254.08Z" fill="#1f6342"/>
<path d="M307.60 248.88L309.15 251.58L306.05 251.58Z" fill="#1f6342"/>
<path d="M313.90 250.08L315.45 252.78L312.35 252.78Z" fill="#1f6342"/>
<path d="M314.40 244.78L315.95 247.48L312.85 247.48Z" fill="#1f6342"/>
<path d="M319.80 244.78L321.35 247.48L318.25 247.48Z" fill="#1f6342"/>
<path d="M321.70 242.28L323.25 244.98L320.15 244.98Z" fill="#1f6342"/>
<path d="M324.70 245.28L326.25 247.98L323.15 247.98Z" fill="#1f6342"/>
<path d="M327.10 244.78L328.65 247.48L325.55 247.48Z" fill="#1f6342"/>
<path d="M332.70 245.98L334.25 248.68L331.15 248.68Z" fill="#1f6342"/>
<path d="M343.70 239.18L345.25 241.88L342.15 241.88Z" fill="#1f6342"/>
<path d="M345.70 242.28L347.25 244.98L344.15 244.98Z" fill="#1f6342"/>
<path d="M359.60 239.18L361.15 241.88L358.05 241.88Z" fill="#1f6342"/>
<path d="M368.10 232.58L369.65 235.28L366.55 235.28Z" fill="#1f6342"/>
<path d="M371.80 237.38L373.35 240.08L370.25 240.08Z" fill="#1f6342"/>
<path d="M377.40 239.88L378.95 242.58L375.85 242.58Z" fill="#1f6342"/>
<circle cx="253.90" cy="234.40" r="1.45" fill="#000"/>
<circle cx="252.90" cy="237.80" r="1.45" fill="#000"/>
<circle cx="255.60" cy="238.50" r="1.45" fill="#000"/>
<circle cx="251.60" cy="240.50" r="1.45" fill="#000"/>
<circle cx="250.20" cy="242.50" r="1.45" fill="#000"/>
<circle cx="248.90" cy="243.90" r="1.45" fill="#000"/>
<circle cx="246.20" cy="245.90" r="1.45" fill="#000"/>
<circle cx="247.50" cy="247.20" r="1.45" fill="#000"/>
<circle cx="245.50" cy="249.20" r="1.45" fill="#000"/>
<circle cx="244.20" cy="251.30" r="1.45" fill="#000"/>
<circle cx="248.20" cy="249.90" r="1.45" fill="#000"/>
<line x1="245.70" y1="259.80" x2="377.60" y2="237.90" stroke="#777" stroke-width="0.9"/>
<line x1="244.20" y1="243.60" x2="292.80" y2="178.50" stroke="#6fd39c" stroke-width="1.1"/>
<line x1="344.00" y1="165.40" x2="354.80" y2="165.40" stroke="#777" stroke-width="0.9"/>
<line x1="344.00" y1="171.20" x2="354.80" y2="171.20" stroke="#8ad9ae" stroke-width="1.3"/>
<text x="356.90" y="167.30" font-size="5.0" text-anchor="start" fill="#444" stroke="#444" stroke-width="0.0"><tspan font-style="italic">p</tspan>&lt;0.0001</text>
<text x="356.90" y="173.10" font-size="5.0" text-anchor="start" fill="#444" stroke="#444" stroke-width="0.0"><tspan font-style="italic">p</tspan>&lt;0.0001</text>
</svg>
</body></html>
